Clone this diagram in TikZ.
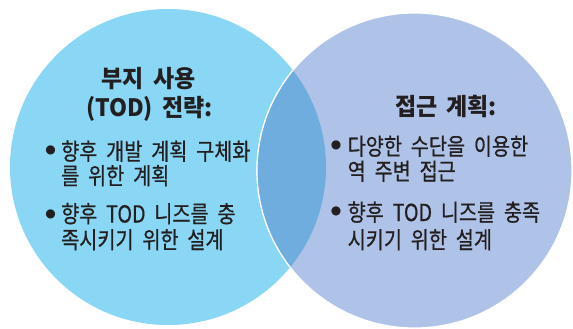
\documentclass[tikz,border=0pt]{standalone}
\usepackage{fontspec}
\setmainfont{Noto Sans CJK KR}
\newfontfamily\krbody{Noto Sans CJK KR}[FakeStretch=0.84,WordSpace=2,FakeBold=0.6]
\newfontfamily\krtitle{Noto Sans CJK KR}[FakeStretch=0.96,WordSpace=1.8]
\newfontfamily\dvfont{DejaVu Sans}
\definecolor{leftc}{RGB}{137,215,244}
\definecolor{rightc}{RGB}{175,195,232}
\definecolor{overc}{RGB}{111,173,223}
\definecolor{ink}{RGB}{35,31,32}
\tikzset{
  lbl/.style={font=\krbody\fontsize{23.5}{27}\selectfont, text=ink, inner sep=0pt, anchor=base west},
  ttl/.style={font=\krtitle\bfseries\fontsize{24}{28}\selectfont, text=ink, inner sep=0pt, anchor=base},
  bul/.style={font=\dvfont\fontsize{12}{14}\selectfont, text=ink, inner sep=0pt, anchor=center},
  rim/.style={draw=white, line width=1.2bp}
}
\begin{document}
\begin{tikzpicture}[x=1bp,y=-1bp]
\fill[white] (0,0) rectangle (573,328);
\useasboundingbox (0,0) rectangle (573,328);
\coordinate (cl) at (168,167);
\coordinate (cr) at (414.5,170.5);
\fill[leftc] (cl) circle[radius=158bp];
\path[fill=rightc, rim] (cr) circle[radius=157.5bp];
\begin{scope}
  \clip (cl) circle[radius=158bp];
  \fill[overc] (cr) circle[radius=157.5bp];
  \draw[rim] (cr) circle[radius=157.5bp];
\end{scope}
% left circle text
\node[ttl] (lt1) at (148.5,87) {부지 사용};
\node[ttl] (lt2) at (149.5,116) {(TOD) 전략:};
\node[bul] (lb1) at (50.5,150) {●};
\node[lbl] (l11) at (61,160) {향후 개발 계획 구체화};
\node[lbl] (l12) at (61,184.5) {를 위한 계획};
\node[bul] (lb2) at (50.5,214) {●};
\node[lbl] (l21) at (61,222.5) {향후 TOD 니즈를 충};
\node[lbl] (l22) at (61,248.5) {족시키기 위한 설계};
% right circle text
\node[ttl] (rt1) at (446,115) {접근 계획:};
\node[bul] (rb1) at (336,145) {●};
\node[lbl] (r11) at (347.5,155) {다양한 수단을 이용한};
\node[lbl] (r12) at (347.5,180) {역 주변 접근};
\node[bul] (rb2) at (336,211.5) {●};
\node[lbl] (r21) at (347.5,221) {향후 TOD 니즈를 충족};
\node[lbl] (r22) at (347.5,248.5) {시키기 위한 설계};
\end{tikzpicture}
\end{document}
